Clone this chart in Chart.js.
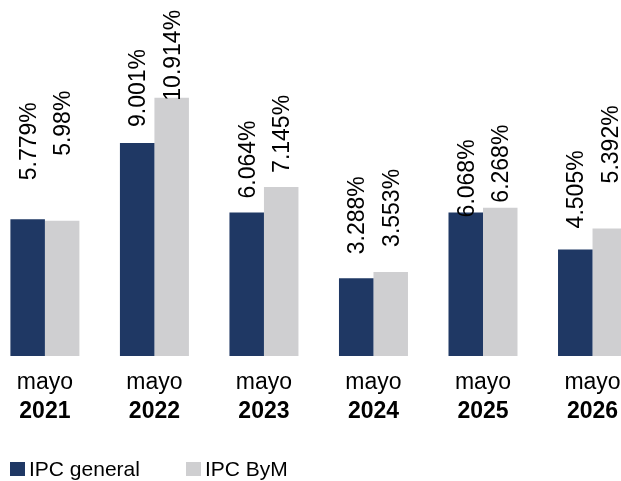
<!DOCTYPE html>
<html>
<head>
<meta charset="utf-8">
<script src="https://cdn.jsdelivr.net/npm/chart.js@4"></script>
<style>
html,body{margin:0;padding:0;background:#fff;overflow:hidden}
#wrap{position:relative;width:621px;height:481px}
</style>
</head>
<body>
<div id="wrap"><canvas id="c" width="621" height="481"></canvas></div>
<script>
// ---- data ----
const months = ['mayo', 'mayo', 'mayo', 'mayo', 'mayo', 'mayo'];
const years = ['2021', '2022', '2023', '2024', '2025', '2026'];
const seriesNames = ['IPC general', 'IPC ByM'];
const ipcGeneral = [5.779, 9.001, 6.064, 3.288, 6.068, 4.505];
const ipcByM = [5.71, 10.914, 7.145, 3.553, 6.268, 5.392];
const ipcGeneralLabels = ['5.779%', '9.001%', '6.064%', '3.288%', '6.068%', '4.505%'];
const ipcByMLabels = ['5.98%', '10.914%', '7.145%', '3.553%', '6.268%', '5.392%'];

const FONT = "'Liberation Sans', Arial, Helvetica, sans-serif";
const NAVY = '#1F3864';
const GREY = '#CFCFD1';

const barLabelPlugin = {
  id: 'barLabels',
  afterDatasetsDraw(chart, args, opts) {
    const ctx = chart.ctx;
    chart.data.datasets.forEach((ds, di) => {
      const meta = chart.getDatasetMeta(di);
      meta.data.forEach((bar, i) => {
        const gap = opts.gaps[di][i];
        ctx.save();
        ctx.translate(bar.x + opts.shift, bar.y - gap);
        ctx.rotate(-Math.PI / 2);
        ctx.font = opts.size + 'px ' + FONT;
        ctx.fillStyle = opts.color;
        ctx.textAlign = 'left';
        ctx.textBaseline = 'alphabetic';
        ctx.fillText(ds.valueLabels[i], 0, 0);
        ctx.restore();
      });
    });
  }
};

const legendPlugin = {
  id: 'bottomLegend',
  afterDraw(chart, args, opts) {
    const ctx = chart.ctx;
    ctx.save();
    chart.data.datasets.forEach((ds, di) => {
      const x = opts.itemX[di];
      ctx.fillStyle = ds.backgroundColor;
      ctx.fillRect(x, opts.boxTop, opts.boxW, opts.boxH);
      ctx.fillStyle = opts.color;
      ctx.font = opts.size + 'px ' + FONT;
      ctx.textAlign = 'left';
      ctx.textBaseline = 'alphabetic';
      ctx.fillText(ds.label, x + opts.boxW + opts.textGap, opts.baseline);
    });
    ctx.restore();
  }
};

const xMin = -0.41, xMax = 5.26;
const noSidePadding = (h) => (s) => { s.height = h; s.paddingLeft = 0; s.paddingRight = 0; };

new Chart(document.getElementById('c'), {
  type: 'bar',
  data: {
    datasets: [
      {
        label: seriesNames[0],
        data: ipcGeneral.map((v, i) => ({ x: i, y: v })),
        valueLabels: ipcGeneralLabels,
        backgroundColor: NAVY
      },
      {
        label: seriesNames[1],
        data: ipcByM.map((v, i) => ({ x: i, y: v })),
        valueLabels: ipcByMLabels,
        backgroundColor: GREY
      }
    ]
  },
  options: {
    responsive: false,
    animation: false,
    layout: { padding: { top: 1, left: 0, right: 0, bottom: 0 } },
    datasets: { bar: { categoryPercentage: 0.63, barPercentage: 1, borderWidth: 0 } },
    scales: {
      x: {
        type: 'linear', position: 'bottom', weight: 0, offset: false,
        min: xMin, max: xMax,
        grid: { display: false, drawTicks: false },
        border: { display: false },
        ticks: {
          stepSize: 1, includeBounds: false, autoSkip: false,
          maxRotation: 0, minRotation: 0, padding: 13, color: '#000',
          font: { family: FONT, size: 23 },
          callback: (v) => (Number.isInteger(v) && months[v] !== undefined) ? months[v] : ''
        },
        afterFit: noSidePadding(40)
      },
      x2: {
        type: 'linear', position: 'bottom', weight: 1, offset: false,
        min: xMin, max: xMax,
        grid: { display: false, drawTicks: false },
        border: { display: false },
        ticks: {
          stepSize: 1, includeBounds: false, autoSkip: false,
          maxRotation: 0, minRotation: 0, padding: 1.4, color: '#000',
          font: { family: FONT, size: 23, weight: 'bold' },
          callback: (v) => (Number.isInteger(v) && years[v] !== undefined) ? years[v] : ''
        },
        afterFit: noSidePadding(85)
      },
      y: { display: false, min: 0, max: 15 }
    },
    plugins: {
      legend: { display: false },
      tooltip: { enabled: false },
      barLabels: {
        gaps: [[39, 16, 14, 24, -5, 21], [65, -3, 14, 25, 5, 45]],
        shift: 8.2, size: 23, color: '#000'
      },
      bottomLegend: {
        itemX: [10, 186], boxTop: 462, boxW: 15, boxH: 14,
        textGap: 4, baseline: 476, size: 21, color: '#000'
      }
    }
  },
  plugins: [barLabelPlugin, legendPlugin]
});
</script>
</body>
</html>
